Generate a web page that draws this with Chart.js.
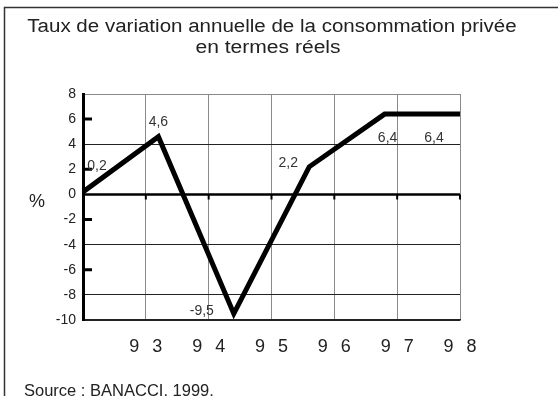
<!DOCTYPE html>
<html lang="fr">
<head>
<meta charset="utf-8">
<title>Consommation privée</title>
<script src="https://cdn.jsdelivr.net/npm/chart.js@4"></script>
<style>
  html, body { margin: 0; padding: 0; background: #fff; }
  #wrap { width: 558px; height: 396px; }
</style>
</head>
<body>
<div id="wrap"><canvas id="chart" width="558" height="396"></canvas></div>
<script>
// ---- data ----
const years = ['93', '94', '95', '96', '97', '98'];
const growth = [0.2, 4.6, -9.5, 2.2, 6.4, 6.4];
const yTicks = [8, 6, 4, 2, 0, -2, -4, -6, -8, -10];
const gridValues = [4, -4, -8, -10];
const minorTicks = [6, 2, -2, -6];

const titleLines = ['Taux de variation annuelle de la consommation privée', 'en termes réels'];
const sourceText = 'Source : BANACCI, 1999.';

// where each value label sits relative to its point (px)
const labelOffsets = [[14, -26], [0, -15], [-32, -3], [-21, -4], [3, 24], [-26, 24]];

const FONT = '"Liberation Sans", Arial, sans-serif';
Chart.defaults.font.family = FONT;

const fmt = v => String(v).replace('.', ',');

// draws a centred line of text, widened a little
function wideText(ctx, text, cx, baseline, stretch) {
    ctx.save();
    ctx.translate(cx, baseline);
    ctx.scale(stretch, 1);
    ctx.textAlign = 'center';
    ctx.fillText(text, 0, 0);
    ctx.restore();
}

const decor = {
    id: 'decor',
    beforeDraw(chart) {
        const ctx = chart.ctx;
        ctx.save();
        ctx.fillStyle = '#fff';
        ctx.fillRect(0, 0, chart.width, chart.height);
        // frame (left and top edges only show)
        ctx.strokeStyle = '#333';
        ctx.lineWidth = 1.5;
        ctx.beginPath();
        ctx.moveTo(4.5, chart.height);
        ctx.lineTo(4.5, 7.5);
        ctx.lineTo(chart.width, 7.5);
        ctx.stroke();
        ctx.restore();
    },
    beforeDatasetsDraw(chart) {
        const { ctx, chartArea, scales: { x, y } } = chart;
        const y0 = y.getPixelForValue(0);
        ctx.save();
        ctx.strokeStyle = '#000';
        // zero line with its tick marks
        ctx.lineWidth = 2.5;
        ctx.beginPath();
        ctx.moveTo(chartArea.left, y0);
        ctx.lineTo(chartArea.right, y0);
        ctx.stroke();
        ctx.lineWidth = 2;
        ctx.beginPath();
        x.ticks.forEach(t => {
            const px = x.getPixelForValue(t.value);
            ctx.moveTo(px, y0);
            ctx.lineTo(px, y0 + 5);
        });
        ctx.stroke();
        // short inner ticks on the value axis
        ctx.lineWidth = 3;
        ctx.beginPath();
        minorTicks.forEach(v => {
            const py = y.getPixelForValue(v);
            ctx.moveTo(chartArea.left, py);
            ctx.lineTo(chartArea.left + 9, py);
        });
        ctx.stroke();
        ctx.restore();
    },
    afterDatasetsDraw(chart) {
        const ctx = chart.ctx;
        const meta = chart.getDatasetMeta(0);
        ctx.save();
        ctx.font = '14px ' + FONT;
        ctx.fillStyle = '#333';
        ctx.textAlign = 'center';
        ctx.textBaseline = 'middle';
        meta.data.forEach((pt, i) => {
            const [dx, dy] = labelOffsets[i];
            ctx.fillText(fmt(growth[i]), pt.x + dx, pt.y + dy);
        });
        ctx.restore();
    },
    afterDraw(chart) {
        const { ctx, scales: { x } } = chart;
        ctx.save();
        ctx.fillStyle = '#222';
        ctx.textBaseline = 'alphabetic';

        ctx.font = '18px ' + FONT;
        wideText(ctx, titleLines[0], 272, 32, 1.14);
        wideText(ctx, titleLines[1], 268, 53, 1.17);
        ctx.textAlign = 'center';
        ctx.fillText('%', 37, 207);

        // spaced-out year labels under the grid
        const spacing = 13;
        ctx.letterSpacing = spacing + 'px';
        ctx.textAlign = 'left';
        years.forEach((label, i) => {
            const px = x.getPixelForValue(x.ticks[i + 1].value);
            const w = ctx.measureText(label).width - spacing;
            ctx.fillText(label, px - w / 2, 352);
        });
        ctx.letterSpacing = '0px';

        ctx.font = '16.5px ' + FONT;
        ctx.fillText(sourceText, 24, 396);
        ctx.restore();
    }
};

new Chart(document.getElementById('chart'), {
    type: 'line',
    data: {
        datasets: [{
            data: growth.map((v, i) => ({ x: i, y: v })),
            borderColor: '#000',
            borderWidth: 5,
            borderJoinStyle: 'miter',
            pointRadius: 0,
            tension: 0,
            fill: false
        }]
    },
    options: {
        responsive: false,
        animation: false,
        layout: { padding: { top: 94, right: 98, bottom: 76, left: 0 } },
        plugins: { legend: { display: false }, tooltip: { enabled: false }, title: { display: false } },
        scales: {
            x: {
                type: 'linear',
                min: 0,
                max: growth.length - 1,
                afterBuildTicks: scale => {
                    scale.ticks = Array.from({ length: years.length + 1 },
                        (_, k) => ({ value: k * (growth.length - 1) / years.length }));
                },
                afterFit: scale => { scale.height = 0; },
                ticks: { display: false },
                grid: { color: '#8a8a8a', lineWidth: 1, drawTicks: false },
                border: { display: true, color: '#222', width: 1.5 }
            },
            y: {
                min: -10,
                max: 8,
                afterBuildTicks: scale => { scale.ticks = yTicks.map(v => ({ value: v })); },
                afterFit: scale => { scale.width = 83; },
                ticks: {
                    padding: 7,
                    color: '#222',
                    font: { size: 14 },
                    callback: v => String(v)
                },
                grid: {
                    drawTicks: false,
                    lineWidth: 1,
                    color: c => c.tick.value === 8 ? '#8a8a8a'
                        : gridValues.includes(c.tick.value) ? '#222' : 'rgba(0,0,0,0)'
                },
                border: { color: '#000', width: 3 }
            }
        }
    },
    plugins: [decor]
});
</script>
</body>
</html>
